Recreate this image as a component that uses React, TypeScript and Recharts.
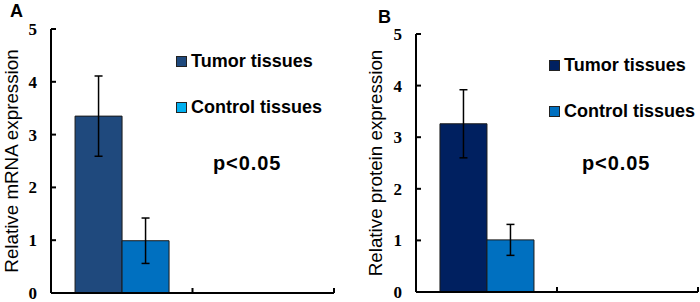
import React from 'react';
import { BarChart, Bar, XAxis, YAxis, ErrorBar, Legend } from 'recharts';

// ---- data ----
const categories = ['group', 'empty'];
const yTicks = [0, 1, 2, 3, 4, 5];
const seriesNames = ['Tumor tissues', 'Control tissues'];

const mrnaTumor = [3.35, null];
const mrnaTumorErr = [0.76, null];
const mrnaControl = [0.99, null];
const mrnaControlErr = [0.43, null];

const proteinTumor = [3.26, null];
const proteinTumorErr = [0.66, null];
const proteinControl = [1.01, null];
const proteinControlErr = [0.3, null];

const SANS = '"Liberation Sans", Arial, sans-serif';
const SERIF = '"Liberation Serif", "Times New Roman", serif';
const Y_TICK_GAP = 15;

const buildData = (t: any[], te: any[], c: any[], ce: any[]) =>
  categories.map((name, i) => ({
    name,
    tumor: t[i],
    tumorErr: te[i],
    control: c[i],
    controlErr: ce[i],
  }));

const mrnaData = buildData(mrnaTumor, mrnaTumorErr, mrnaControl, mrnaControlErr);
const proteinData = buildData(proteinTumor, proteinTumorErr, proteinControl, proteinControlErr);

const makeXTick = (fallbackHalf: number) => (props: any) => {
  const { x, y, width, visibleTicksCount } = props;
  const half =
    typeof width === 'number' && isFinite(width) && width > 0 && visibleTicksCount
      ? width / visibleTicksCount / 2
      : fallbackHalf;
  return (
    <line x1={x + half} x2={x + half} y1={y} y2={y - 5} stroke="#000" strokeWidth={2} />
  );
};

const YTick = (props: any) => {
  const { x, y, payload } = props;
  const ax = x + Y_TICK_GAP;
  return (
    <g>
      <line x1={ax} x2={ax + 5} y1={y} y2={y} stroke="#000" strokeWidth={2} />
      <text
        x={x + 1}
        y={y}
        dy={6}
        textAnchor="end"
        fontFamily={SERIF}
        fontWeight="bold"
        fontSize={17}
        fill="#000"
      >
        {payload.value}
      </text>
    </g>
  );
};

type PanelProps = {
  data: any[];
  left: number;
  margin: { top: number; right: number; bottom: number; left: number };
  yAxisWidth: number;
  yLabel: string;
  yLabelX: number;
  tumorColor: string;
  controlColor: string;
  legendColors: string[];
  legendLeft: number;
  legendTop: number;
  letter: string;
  letterX: number;
  letterY: number;
  pX: number;
  pY: number;
};

const Panel = (p: PanelProps) => {
  const W = 350;
  const H = 302;
  const fallbackHalf = (W - p.margin.left - p.margin.right - p.yAxisWidth) / categories.length / 2;
  const legendContent = () => (
    <div style={{ fontFamily: SANS }}>
      {seriesNames.map((n, i) => (
        <div
          key={n}
          style={{
            display: 'flex',
            alignItems: 'center',
            height: 20,
            marginTop: i === 0 ? 0 : 26,
          }}
        >
          <div
            style={{
              width: 9,
              height: 9,
              background: p.legendColors[i],
              border: '1px solid #222',
              marginRight: 4,
            }}
          />
          <span style={{ fontSize: 18, fontWeight: 'bold', color: '#000', lineHeight: '20px', whiteSpace: 'nowrap' }}>
            {n}
          </span>
        </div>
      ))}
    </div>
  );
  return (
    <div style={{ position: 'absolute', left: p.left, top: 0, width: W, height: H }}>
      <BarChart width={W} height={H} data={p.data} margin={p.margin} barCategoryGap="17%" barGap={0}>
        <XAxis
          dataKey="name"
          height={1}
          tickSize={0}
          tickMargin={0}
          tickLine={false}
          axisLine={{ stroke: '#000', strokeWidth: 2 }}
          tick={makeXTick(fallbackHalf)}
          interval={0}
        />
        <YAxis
          width={p.yAxisWidth}
          domain={[0, 5]}
          ticks={yTicks}
          tickSize={0}
          tickMargin={Y_TICK_GAP}
          tickLine={false}
          axisLine={{ stroke: '#000', strokeWidth: 2 }}
          tick={YTick}
          interval={0}
          label={(lp: any) => {
            const vb = lp.viewBox || {};
            const cy = (vb.y || 0) + (vb.height || 0) / 2;
            return (
              <text
                x={p.yLabelX}
                y={cy}
                transform={`rotate(-90, ${p.yLabelX}, ${cy})`}
                textAnchor="middle"
                dominantBaseline="central"
                fontFamily={SANS}
                fontSize={18.8}
                fill="#000"
              >
                {p.yLabel}
              </text>
            );
          }}
        />
        <Legend
          layout="vertical"
          align="center"
          verticalAlign="middle"
          content={legendContent}
          wrapperStyle={{ left: p.legendLeft, top: p.legendTop, width: 'auto', height: 'auto' }}
        />
        <Bar dataKey="tumor" name={seriesNames[0]} fill={p.tumorColor} stroke="#1a1a1a" strokeWidth={1} isAnimationActive={false}>
          <ErrorBar dataKey="tumorErr" width={4} stroke="#000" strokeWidth={1.5} direction="y" />
        </Bar>
        <Bar dataKey="control" name={seriesNames[1]} fill={p.controlColor} stroke="#1a1a1a" strokeWidth={1} isAnimationActive={false}>
          <ErrorBar dataKey="controlErr" width={4} stroke="#000" strokeWidth={1.5} direction="y" />
        </Bar>
      </BarChart>
      <svg width={W} height={H} style={{ position: 'absolute', left: 0, top: 0, pointerEvents: 'none' }}>
        <text x={p.letterX} y={p.letterY} fontFamily={SANS} fontWeight="bold" fontSize={18} fill="#000">
          {p.letter}
        </text>
        <text x={p.pX} y={p.pY} fontFamily={SANS} fontWeight="bold" fontSize={20} letterSpacing={0.9} fill="#000">
          p&lt;0.05
        </text>
      </svg>
    </div>
  );
};

export default function App() {
  return (
    <div style={{ position: 'absolute', left: 0, top: 0, width: 700, height: 302, background: '#fff', overflow: 'hidden' }}>
      <Panel
        data={mrnaData}
        left={0}
        margin={{ top: 29, right: 16, bottom: 8, left: 0 }}
        yAxisWidth={51}
        yLabel="Relative mRNA expression"
        yLabelX={11}
        tumorColor="#1F497D"
        controlColor="#0070C0"
        legendColors={['#1F497D', '#00B0F0']}
        legendLeft={176}
        legendTop={51}
        letter="A"
        letterX={10}
        letterY={17}
        pX={213}
        pY={170}
      />
      <Panel
        data={proteinData}
        left={350}
        margin={{ top: 34, right: 2, bottom: 9, left: 0 }}
        yAxisWidth={66}
        yLabel="Relative protein expression"
        yLabelX={25}
        tumorColor="#002060"
        controlColor="#0070C0"
        legendColors={['#002060', '#0070C0']}
        legendLeft={199}
        legendTop={55}
        letter="B"
        letterX={28}
        letterY={23}
        pX={232}
        pY={170}
      />
    </div>
  );
}
